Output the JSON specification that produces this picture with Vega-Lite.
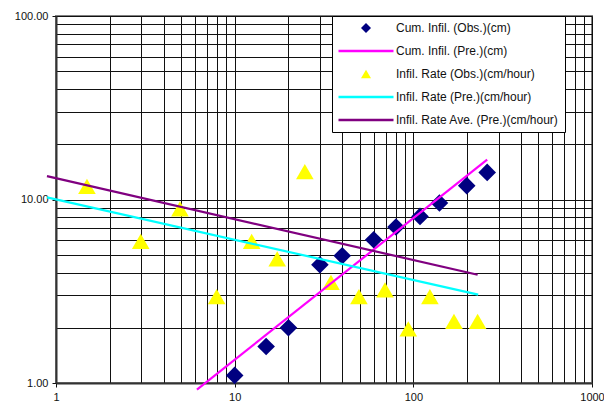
{
  "$schema": "https://vega.github.io/schema/vega-lite/v6.json",
  "width": 536,
  "height": 367,
  "autosize": {"type": "none"},
  "padding": {"left": 56, "top": 16, "right": 12, "bottom": 24},
  "background": "white",
  "config": {
    "font": "Liberation Sans",
    "view": {"stroke": "#808080", "strokeWidth": 2},
    "axis": {
      "labelFont": "Liberation Sans",
      "labelFontSize": 11,
      "labelColor": "#111",
      "domainColor": "#333",
      "domainWidth": 2,
      "gridColor": "#111",
      "gridWidth": 1,
      "gridOpacity": 1,
      "tickSize": 4,
      "tickWidth": 1,
      "labelPadding": 4,
      "title": null
    },
    "legend": {
      "labelFont": "Liberation Sans",
      "labelFontSize": 12,
      "labelColor": "#111",
      "labelLimit": 400
    }
  },
  "datasets": {
    "obs": [
      {"s": "Cum. Infil. (Obs.)(cm)", "x": 10, "y": 1.1},
      {"s": "Cum. Infil. (Obs.)(cm)", "x": 15, "y": 1.58},
      {"s": "Cum. Infil. (Obs.)(cm)", "x": 20, "y": 2.0},
      {"s": "Cum. Infil. (Obs.)(cm)", "x": 30, "y": 4.41},
      {"s": "Cum. Infil. (Obs.)(cm)", "x": 40, "y": 4.94},
      {"s": "Cum. Infil. (Obs.)(cm)", "x": 60, "y": 6.04},
      {"s": "Cum. Infil. (Obs.)(cm)", "x": 80, "y": 7.08},
      {"s": "Cum. Infil. (Obs.)(cm)", "x": 109, "y": 8.09},
      {"s": "Cum. Infil. (Obs.)(cm)", "x": 140, "y": 9.57},
      {"s": "Cum. Infil. (Obs.)(cm)", "x": 199, "y": 11.9},
      {"s": "Cum. Infil. (Obs.)(cm)", "x": 259, "y": 14.05},
      {"s": "Infil. Rate (Obs.)(cm/hour)", "x": 1.49, "y": 11.8},
      {"s": "Infil. Rate (Obs.)(cm/hour)", "x": 2.98, "y": 5.91},
      {"s": "Infil. Rate (Obs.)(cm/hour)", "x": 4.94, "y": 8.88},
      {"s": "Infil. Rate (Obs.)(cm/hour)", "x": 7.93, "y": 2.96},
      {"s": "Infil. Rate (Obs.)(cm/hour)", "x": 12.45, "y": 5.91},
      {"s": "Infil. Rate (Obs.)(cm/hour)", "x": 17.3, "y": 4.74},
      {"s": "Infil. Rate (Obs.)(cm/hour)", "x": 24.7, "y": 14.2},
      {"s": "Infil. Rate (Obs.)(cm/hour)", "x": 34.6, "y": 3.53},
      {"s": "Infil. Rate (Obs.)(cm/hour)", "x": 49.6, "y": 2.96},
      {"s": "Infil. Rate (Obs.)(cm/hour)", "x": 69.4, "y": 3.22},
      {"s": "Infil. Rate (Obs.)(cm/hour)", "x": 93.7, "y": 1.97},
      {"s": "Infil. Rate (Obs.)(cm/hour)", "x": 123.8, "y": 2.96},
      {"s": "Infil. Rate (Obs.)(cm/hour)", "x": 168.8, "y": 2.17},
      {"s": "Infil. Rate (Obs.)(cm/hour)", "x": 229, "y": 2.17}
    ],
    "pre": [
      {"s": "Cum. Infil. (Pre.)(cm)", "x": 6.15, "y": 0.92},
      {"s": "Cum. Infil. (Pre.)(cm)", "x": 259, "y": 16.5},
      {"s": "Infil. Rate (Pre.)(cm/hour)", "x": 0.89, "y": 10.27},
      {"s": "Infil. Rate (Pre.)(cm/hour)", "x": 230.7, "y": 3.03},
      {"s": "Infil. Rate Ave. (Pre.)(cm/hour)", "x": 0.89, "y": 13.4},
      {"s": "Infil. Rate Ave. (Pre.)(cm/hour)", "x": 229, "y": 3.89}
    ]
  },
  "layer": [
    {
      "data": {"name": "obs"},
      "mark": {"type": "point", "filled": true, "opacity": 1, "size": 310, "strokeWidth": 0},
      "encoding": {
        "x": {
          "field": "x", "type": "quantitative",
          "scale": {"type": "log", "domain": [1, 1000], "nice": false},
          "axis": {
            "values": [1,2,3,4,5,6,7,8,9,10,20,30,40,50,60,70,80,90,100,200,300,400,500,600,700,800,900,1000],
            "labelExpr": "abs(log(datum.value)/LN10 - round(log(datum.value)/LN10)) < 0.001 ? format(datum.value, 'd') : ''",
            "tickColor": {"condition": {"test": "abs(log(datum.value)/LN10 - round(log(datum.value)/LN10)) < 0.001", "value": "#111"}, "value": "transparent"},
            "labelFlush": false,
            "labelPadding": 4
          }
        },
        "y": {
          "field": "y", "type": "quantitative",
          "scale": {"type": "log", "domain": [1, 100], "nice": false},
          "axis": {
            "values": [1,2,3,4,5,6,7,8,9,10,20,30,40,50,60,70,80,90,100],
            "labelExpr": "abs(log(datum.value)/LN10 - round(log(datum.value)/LN10)) < 0.001 ? format(datum.value, '.2f') : ''",
            "tickColor": {"condition": {"test": "abs(log(datum.value)/LN10 - round(log(datum.value)/LN10)) < 0.001", "value": "#111"}, "value": "transparent"},
            "labelFlush": false
          }
        },
        "color": {
          "field": "s", "type": "nominal",
          "scale": {
            "domain": ["Cum. Infil. (Obs.)(cm)", "Cum. Infil. (Pre.)(cm)", "Infil. Rate (Obs.)(cm/hour)", "Infil. Rate (Pre.)(cm/hour)", "Infil. Rate Ave. (Pre.)(cm/hour)"],
            "range": ["#000080", "#FF00FF", "#FFFF00", "#00FFFF", "#800080"]
          },
          "legend": {
            "title": null,
            "orient": "none",
            "legendX": 276,
            "legendY": 0,
            "padding": 6,
            "symbolSize": 100,
            "symbolOffset": 22,
            "labelOffset": 24,
            "rowPadding": 11,
            "strokeColor": "#000",
            "fillColor": "white",
            "symbolStrokeWidth": 0
          }
        },
        "shape": {
          "field": "s", "type": "nominal",
          "scale": {
            "domain": ["Cum. Infil. (Obs.)(cm)", "Cum. Infil. (Pre.)(cm)", "Infil. Rate (Obs.)(cm/hour)", "Infil. Rate (Pre.)(cm/hour)", "Infil. Rate Ave. (Pre.)(cm/hour)"],
            "range": ["diamond", "M-5.5,-0.25H5.5V0.25H-5.5Z", "triangle-up", "M-5.5,-0.25H5.5V0.25H-5.5Z", "M-5.5,-0.25H5.5V0.25H-5.5Z"]
          },
          "legend": {
            "title": null,
            "orient": "none",
            "legendX": 276,
            "legendY": 0
          }
        }
      }
    },
    {
      "data": {"name": "pre"},
      "mark": {"type": "line", "strokeWidth": 2.2, "clip": false},
      "encoding": {
        "x": {"field": "x", "type": "quantitative"},
        "y": {"field": "y", "type": "quantitative"},
        "color": {"field": "s", "type": "nominal", "legend": null},
        "detail": {"field": "s"}
      }
    }
  ]
}
